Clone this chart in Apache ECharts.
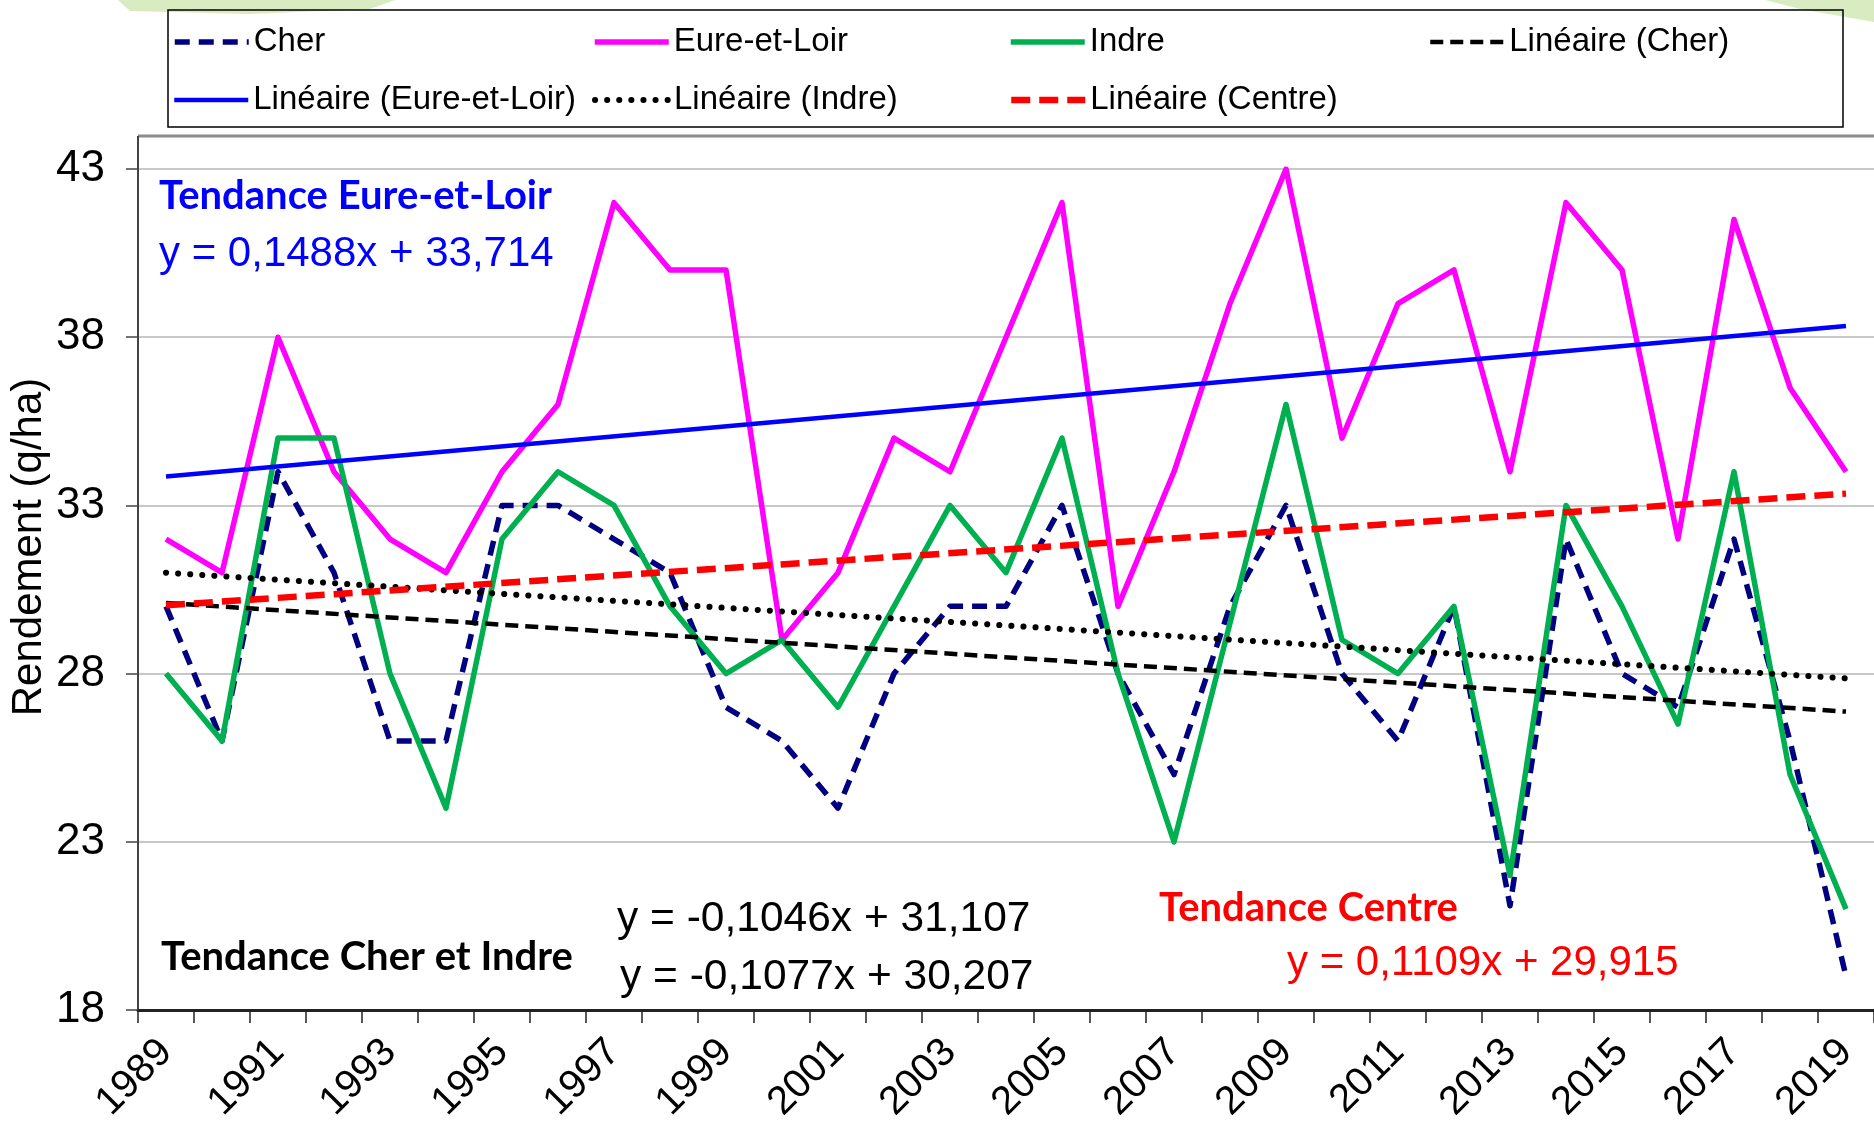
<!DOCTYPE html>
<html>
<head>
<meta charset="utf-8">
<title>Rendement Cher / Eure-et-Loir / Indre</title>
<script src="https://cdn.jsdelivr.net/npm/echarts@6/dist/echarts.min.js"></script>
<style>
  html, body { margin: 0; background: #fff; }
  #chart { width: 1874px; height: 1131px; }
</style>
</head>
<body>
<div id="chart"></div>
<script>
var years = ['1989','1990','1991','1992','1993','1994','1995','1996','1997','1998',
             '1999','2000','2001','2002','2003','2004','2005','2006','2007','2008',
             '2009','2010','2011','2012','2013','2014','2015','2016','2017','2018','2019'];
var cher       = [30,26,34,31,26,26,33,33,32,31,27,26,24,28,30,30,33,28,25,30,33,28,26,30,21.1,32,28,27,32,26,19];
var eureEtLoir = [32,31,38,34,32,31,34,36,42,40,40,29,31,35,34,38,42,30,34,39,43,35,39,40,34,42,40,32,41.5,36.5,34];
var indre      = [28,26,35,35,28,24,32,34,33,30,28,29,27,30,33,31,35,28,23,29.5,36,29,28,30,22,33,30,26.5,34,25,21];
// droites de tendance : valeur au premier et au dernier point
var trendCher       = [30.10, 26.87];
var trendEureEtLoir = [33.86, 38.33];
var trendIndre      = [31.00, 27.86];
var trendCentre     = [30.03, 33.35];
var yMin = 18, yMax = 43, yStep = 5;

var FONT = '"Liberation Sans", Arial, sans-serif';
var BOLD = '"Lato", "Open Sans", sans-serif';

function ends(v) {
  return [[years[0], v[0]], [years[years.length - 1], v[1]]];
}
function lineSerie(name, data, color, width, type, cap) {
  return {
    name: name, type: 'line', data: data, symbol: 'none', showSymbol: false,
    connectNulls: true, animation: false,
    lineStyle: { color: color, width: width, type: type, cap: cap || 'butt', join: 'round' },
    itemStyle: { color: color }
  };
}

var series = [
  lineSerie('Cher', cher, '#000080', 5.5, [15, 9]),
  lineSerie('Eure-et-Loir', eureEtLoir, '#ff00ff', 5.5, 'solid'),
  lineSerie('Indre', indre, '#00b050', 5.5, 'solid'),
  lineSerie('Linéaire (Cher)', ends(trendCher), '#000', 4.5, [13, 7]),
  lineSerie('Linéaire (Eure-et-Loir)', ends(trendEureEtLoir), '#0000ff', 4.5, 'solid'),
  lineSerie('Linéaire (Indre)', ends(trendIndre), '#000', 6, [0.1, 12], 'round'),
  lineSerie('Linéaire (Centre)', ends(trendCentre), '#ff0000', 6.5, [19, 9])
];

var chart = echarts.init(document.getElementById('chart'));

// position de chaque entrée de légende (deux lignes, quatre colonnes)
var legendPos = [[172, 24], [592, 24], [1008, 24], [1428, 24], [172, 82], [592, 82], [1008, 82]];
var legends = series.map(function (s, i) {
  return {
    data: [s.name], left: legendPos[i][0], top: legendPos[i][1], padding: 0,
    itemWidth: 74, itemHeight: 14, selectedMode: false,
    itemStyle: { opacity: 0, borderWidth: 0 },
    lineStyle: { width: s.lineStyle.width, type: s.lineStyle.type, cap: s.lineStyle.cap },
    textStyle: { fontFamily: FONT, fontSize: 33, color: '#000', lineHeight: 36 }
  };
});

function txt(text, x, y, font, color) {
  return { type: 'text', x: x, y: y, z: 10,
    style: { text: text, font: font, fill: color, textVerticalAlign: 'middle' } };
}

var option = {
  backgroundColor: '#fff',
  animation: false,
  legend: legends,
  grid: { left: 138, top: 169, width: 1740, height: 841, containLabel: false },
  xAxis: {
    type: 'category', data: years, boundaryGap: true,
    axisLine: { lineStyle: { color: '#222', width: 3 } },
    axisTick: { show: true, interval: 0, length: 13, lineStyle: { color: '#222', width: 1.5 } },
    axisLabel: { interval: 1, rotate: 45, margin: 36, fontFamily: FONT, fontSize: 40, color: '#000' },
    splitLine: { show: false }
  },
  yAxis: {
    type: 'value', min: yMin, max: yMax, interval: yStep,
    axisLine: { show: true, lineStyle: { color: '#444', width: 2 } },
    axisTick: { show: true, length: 12, lineStyle: { color: '#444', width: 1.5 } },
    axisLabel: { margin: 33, fontFamily: FONT, fontSize: 44, color: '#000' },
    splitLine: { lineStyle: { color: '#c8c8c8', width: 2 } }
  },
  series: series,
  graphic: [
    { type: 'polygon', z: 0, shape: { points: [[118, 0], [395, 0], [370, 9], [250, 14], [130, 11]] },
      style: { fill: 'rgba(180,215,130,0.5)' } },
    { type: 'polygon', z: 0, shape: { points: [[1765, 0], [1874, 0], [1874, 22], [1800, 9]] },
      style: { fill: 'rgba(180,215,130,0.5)' } },
    { type: 'rect', z: 5, shape: { x: 168, y: 10, width: 1675, height: 117 },
      style: { fill: 'none', stroke: '#000', lineWidth: 1.5 } },
    { type: 'line', z: 5, shape: { x1: 138, y1: 136, x2: 1874, y2: 136 },
      style: { stroke: '#8c8c8c', lineWidth: 3 } },
    { type: 'line', z: 5, shape: { x1: 138, y1: 136, x2: 138, y2: 170 },
      style: { stroke: '#444', lineWidth: 2 } },
    { type: 'text', x: 29, y: 547, rotation: Math.PI / 2, z: 10,
      style: { text: 'Rendement (q/ha)', font: '42px ' + FONT, fill: '#000',
               textAlign: 'center', textVerticalAlign: 'middle' } },
    txt('Tendance Eure-et-Loir', 159, 196, 'bold 40px ' + BOLD, '#0000ff'),
    txt('y = 0,1488x + 33,714', 159, 254, '42px ' + FONT, '#0000ff'),
    txt('y = -0,1046x + 31,107', 617, 919, '42.5px ' + FONT, '#000'),
    txt('y = -0,1077x + 30,207', 620, 977, '42.5px ' + FONT, '#000'),
    txt('Tendance Cher et Indre', 161, 957, 'bold 40px ' + BOLD, '#000'),
    txt('Tendance Centre', 1159, 908, 'bold 40px ' + BOLD, '#ff0000'),
    txt('y = 0,1109x + 29,915', 1287, 963, '42px ' + FONT, '#ff0000')
  ]
};
chart.setOption(option);
</script>
</body>
</html>
